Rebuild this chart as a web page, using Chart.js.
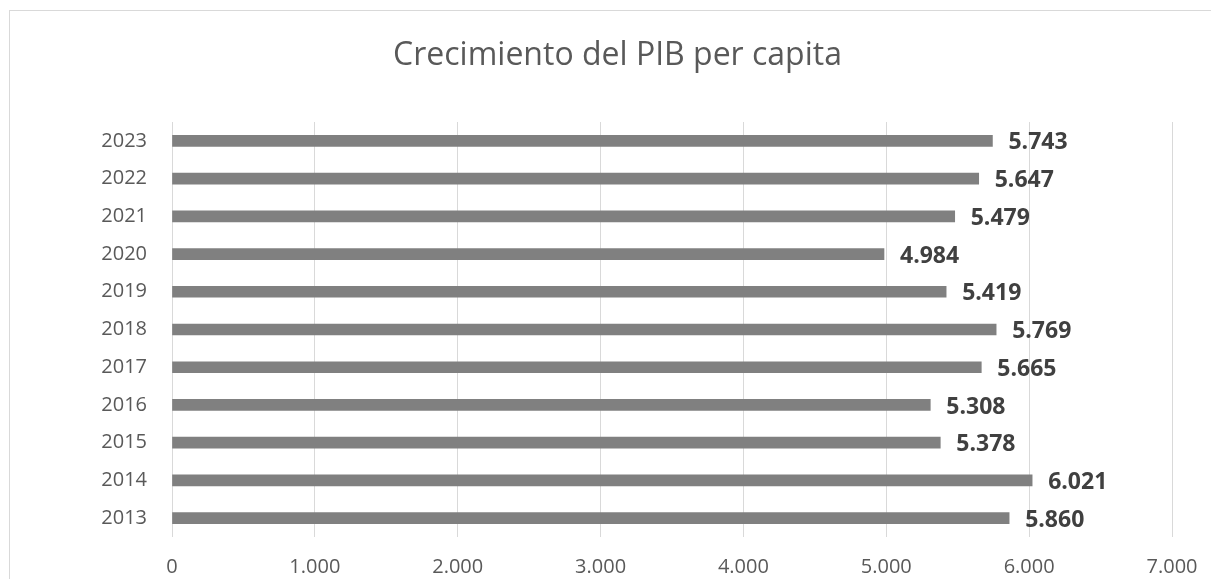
<!DOCTYPE html>
<html>
<head>
<meta charset="utf-8">
<script src="https://cdn.jsdelivr.net/npm/chart.js@4.4.0/dist/chart.umd.min.js"></script>
<style>
html,body{margin:0;padding:0;background:#fff;overflow:hidden;}
#wrap{position:absolute;left:0;top:0;width:1211px;height:579px;}
</style>
</head>
<body>
<div id="wrap"><canvas id="c" width="1211" height="579"></canvas></div>
<script>
const titleText = 'Crecimiento del PIB per capita';
const years = ['2013','2014','2015','2016','2017','2018','2019','2020','2021','2022','2023'];
const pibValues = [5860, 6021, 5378, 5308, 5665, 5769, 5419, 4984, 5479, 5647, 5743];
const xTicks = [0, 1000, 2000, 3000, 4000, 5000, 6000, 7000];

function fmt(v){
  return String(v).replace(/\B(?=(\d{3})+(?!\d))/g, '.');
}

const frame = {
  id: 'frame',
  beforeDraw(chart){
    const ctx = chart.ctx;
    ctx.save();
    ctx.fillStyle = '#ffffff';
    ctx.fillRect(0,0,chart.width,chart.height);
    ctx.strokeStyle = '#d9d9d9';
    ctx.lineWidth = 1;
    ctx.strokeRect(9.5, 10.5, 1400, 800);
    ctx.restore();
  }
};

const valueLabels = {
  id: 'valueLabels',
  afterDatasetsDraw(chart){
    const ctx = chart.ctx;
    const meta = chart.getDatasetMeta(0);
    ctx.save();
    ctx.font = 'bold 23px "Open Sans"';
    ctx.fillStyle = '#404040';
    ctx.textAlign = 'left';
    ctx.textBaseline = 'middle';
    meta.data.forEach((bar, i) => {
      ctx.fillText(fmt(pibValues[i]), bar.x + 16, bar.y + 2);
    });
    ctx.restore();
  }
};

new Chart(document.getElementById('c'), {
  type: 'bar',
  data: {
    labels: years,
    datasets: [{
      data: pibValues,
      backgroundColor: '#808080',
      borderWidth: 0,
      barThickness: 11
    }]
  },
  options: {
    indexAxis: 'y',
    responsive: false,
    animation: false,
    layout: { padding: { top: 0, left: 24, right: 0, bottom: 0 } },
    plugins: {
      legend: { display: false },
      tooltip: { enabled: false },
      title: {
        display: true,
        text: titleText,
        color: '#595959',
        font: { family: '"Open Sans"', size: 32, weight: 'normal' },
        padding: { top: 37, bottom: 46.6 }
      }
    },
    scales: {
      x: {
        min: 0, max: 7000,
        afterBuildTicks(s){ s.ticks = xTicks.map(v => ({value: v})); },
        afterFit(s){ s.height = 42; s.paddingRight = 39; s.paddingLeft = 0; },
        grid: { color: '#d9d9d9', lineWidth: 1, drawTicks: false },
        border: { display: false },
        ticks: {
          color: '#595959',
          font: { family: '"Open Sans"', size: 20 },
          padding: 18,
          callback: v => fmt(v)
        }
      },
      y: {
        reverse: true,
        afterFit(s){ s.width = 148; },
        grid: { display: false, drawTicks: false },
        border: { display: false },
        ticks: {
          color: '#595959',
          font: { family: '"Open Sans"', size: 20 },
          padding: 25
        }
      }
    }
  },
  plugins: [frame, valueLabels]
});
</script>
</body>
</html>
